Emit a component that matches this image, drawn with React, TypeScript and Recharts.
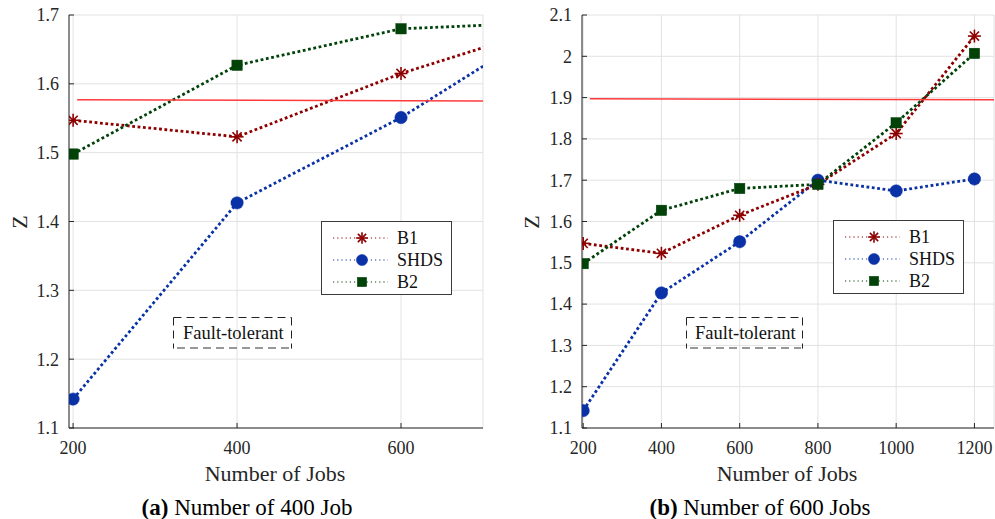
import React from 'react';
import { LineChart, Line, XAxis, YAxis, CartesianGrid } from 'recharts';

// ---- data ----
const jobs = [200, 400, 600, 800, 1000, 1200];
const b1Values = [1.547, 1.523, 1.615, 1.69, 1.813, 2.049];
const shdsValues = [1.142, 1.427, 1.551, 1.7, 1.674, 1.703];
const b2Values = [1.498, 1.627, 1.68, 1.69, 1.839, 2.007];

const thresholdAJobs = [205, 700];
const thresholdAZ = [1.577, 1.575];
const thresholdBJobs = [217, 1250];
const thresholdBZ = [1.897, 1.895];

const xTicksA = [200, 400, 600];
const xTicksB = [200, 400, 600, 800, 1000, 1200];
const yTicksA = [1.1, 1.2, 1.3, 1.4, 1.5, 1.6, 1.7];
const yTicksB = [1.1, 1.2, 1.3, 1.4, 1.5, 1.6, 1.7, 1.8, 1.9, 2, 2.1];

const seriesNames = ['B1', 'SHDS', 'B2'];
const captionA = 'Number of 400 Job';
const captionB = 'Number of 600 Jobs';
const xLabel = 'Number of Jobs';
const yLabel = 'Z';
const boxLabel = 'Fault-tolerant';

const rows = jobs.map((j, i) => ({ jobs: j, b1: b1Values[i], shds: shdsValues[i], b2: b2Values[i] }));
const thrA = thresholdAJobs.map((j, i) => ({ jobs: j, z: thresholdAZ[i] }));
const thrB = thresholdBJobs.map((j, i) => ({ jobs: j, z: thresholdBZ[i] }));

const FONT = "'Liberation Serif', Tinos, 'DejaVu Serif', 'Noto Serif', serif";
const C_B1 = '#8e0000';
const C_SHDS = '#0a32a6';
const C_B2 = '#004208';
const C_TEXT = '#262626';

type Shape = 'star' | 'circle' | 'square';

const Marker = ({ cx, cy, color, shape, scale = 1 }: { cx: number; cy: number; color: string; shape: Shape; scale?: number }) => {
  if (cx == null || cy == null) return null;
  if (shape === 'star') {
    const r = 6.5 * scale;
    const d = r * 0.707;
    return (
      <g stroke={color} strokeWidth={1.6}>
        <line x1={cx - r} y1={cy} x2={cx + r} y2={cy} />
        <line x1={cx} y1={cy - r} x2={cx} y2={cy + r} />
        <line x1={cx - d} y1={cy - d} x2={cx + d} y2={cy + d} />
        <line x1={cx - d} y1={cy + d} x2={cx + d} y2={cy - d} />
      </g>
    );
  }
  if (shape === 'circle') {
    return <circle cx={cx} cy={cy} r={6.2 * scale} fill={color} stroke={color} strokeWidth={0.5} />;
  }
  const s = 5.2 * scale;
  return <rect x={cx - s} y={cy - s} width={2 * s} height={2 * s} fill={color} stroke={color} strokeWidth={0.5} />;
};

const series: { key: string; name: string; color: string; shape: Shape }[] = [
  { key: 'shds', name: seriesNames[1], color: C_SHDS, shape: 'circle' },
  { key: 'b1', name: seriesNames[0], color: C_B1, shape: 'star' },
  { key: 'b2', name: seriesNames[2], color: C_B2, shape: 'square' },
];
const legendOrder = ['b1', 'shds', 'b2'];

const makeDot = (color: string, shape: Shape) => (p: any) => (
  <g key={`d-${p.index}`}>
    <Marker cx={p.cx} cy={p.cy} color={color} shape={shape} />
  </g>
);

const tickStyle = { fontFamily: FONT, fontSize: 18, fill: C_TEXT };

interface PanelProps {
  width: number;
  yAxisWidth: number;
  marginRight: number;
  xDomain: [number, number];
  yDomain: [number, number];
  xTicks: number[];
  yTicks: number[];
  thr: { jobs: number; z: number }[];
}

const Panel = ({ width, yAxisWidth, marginRight, xDomain, yDomain, xTicks, yTicks, thr }: PanelProps) => (
  <LineChart width={width} height={470} data={rows} margin={{ top: 15, right: marginRight, bottom: 0, left: 0 }} style={{ fontFamily: FONT }}>
    <CartesianGrid stroke="#e2e2e2" strokeWidth={1} />
    <XAxis
      dataKey="jobs"
      type="number"
      domain={xDomain}
      ticks={xTicks}
      allowDataOverflow
      height={42}
      tickSize={-5}
      tickMargin={18}
      tick={tickStyle}
      stroke={C_TEXT}
      tickLine={{ stroke: C_TEXT }}
      axisLine={{ stroke: C_TEXT }}
    />
    <XAxis
      xAxisId="t"
      orientation="top"
      dataKey="jobs"
      type="number"
      domain={xDomain}
      ticks={xTicks}
      allowDataOverflow
      height={0}
      tickSize={-5}
      tick={false}
      stroke={C_TEXT}
    />
    <YAxis
      type="number"
      domain={yDomain}
      ticks={yTicks}
      allowDataOverflow
      width={yAxisWidth}
      tickSize={-5}
      tickMargin={15}
      tick={tickStyle}
      stroke={C_TEXT}
      interval={0}
    />
    <YAxis
      yAxisId="r"
      orientation="right"
      type="number"
      domain={yDomain}
      ticks={yTicks}
      allowDataOverflow
      width={0}
      tickSize={-5}
      tick={false}
      stroke={C_TEXT}
      interval={0}
    />
    {series.map((s) => (
      <Line
        key={s.key}
        dataKey={s.key}
        stroke={s.color}
        strokeWidth={2.8}
        strokeDasharray="2.8 2.6"
        dot={makeDot(s.color, s.shape)}
        activeDot={false}
        isAnimationActive={false}
      />
    ))}
    <Line data={thr} dataKey="z" stroke="#ff3a3a" strokeWidth={1.5} dot={false} activeDot={false} isAnimationActive={false} />
  </LineChart>
);

const Legend = ({ left, top }: { left: number; top: number }) => (
  <div
    style={{
      position: 'absolute',
      left,
      top,
      width: 131,
      height: 74,
      border: '1px solid #3a3a3a',
      background: '#fff',
      paddingTop: 5,
      boxSizing: 'border-box',
    }}
  >
    {legendOrder.map((k) => {
      const s = series.find((x) => x.key === k)!;
      return (
        <div key={k} style={{ position: 'relative', height: 22 }}>
          <svg width={70} height={22} style={{ position: 'absolute', left: 0, top: 0 }}>
            <line x1={11} y1={11} x2={66} y2={11} stroke={s.color} strokeWidth={1} strokeDasharray="1.2 3" />
            <Marker cx={40} cy={11} color={s.color} shape={s.shape} scale={0.9} />
          </svg>
          <div
            style={{
              position: 'absolute',
              left: 75,
              top: 0,
              height: 22,
              lineHeight: '22px',
              fontFamily: FONT,
              fontSize: 18,
              color: '#111',
            }}
          >
            {s.name}
          </div>
        </div>
      );
    })}
  </div>
);

const DashedBox = ({ left, top, width, height, textLeft }: { left: number; top: number; width: number; height: number; textLeft: number }) => (
  <div style={{ position: 'absolute', left, top, width, height }}>
    <svg width={width} height={height} style={{ position: 'absolute', left: 0, top: 0 }}>
      <line x1={0.5} y1={0.5} x2={width - 0.5} y2={0.5} stroke="#222" strokeWidth={1} strokeDasharray="8 5" />
      <line x1={0.5} y1={0.5} x2={0.5} y2={height - 0.5} stroke="#222" strokeWidth={1} strokeDasharray="8 5" />
      <line x1={width - 0.5} y1={0.5} x2={width - 0.5} y2={height - 0.5} stroke="#222" strokeWidth={1} strokeDasharray="8 5" />
      <line x1={4} y1={height - 1} x2={width - 2} y2={height - 1} stroke="#777" strokeWidth={1.6} strokeDasharray="8 5" />
    </svg>
    <div
      style={{
        position: 'absolute',
        left: textLeft,
        top: 0,
        height,
        lineHeight: `${height}px`,
        fontFamily: FONT,
        fontSize: 18.5,
        color: '#111',
        whiteSpace: 'nowrap',
      }}
    >
      {boxLabel}
    </div>
  </div>
);

const TextAt = ({ x, y, size, children, rotate, color = C_TEXT }: { x: number; y: number; size: number; children: React.ReactNode; rotate?: boolean; color?: string }) => (
  <div
    style={{
      position: 'absolute',
      left: x,
      top: y,
      transform: `translate(-50%, -50%)${rotate ? ' rotate(-90deg)' : ''}`,
      fontFamily: FONT,
      fontSize: size,
      color,
      whiteSpace: 'nowrap',
      lineHeight: 1,
    }}
  >
    {children}
  </div>
);

export default function App() {
  return (
    <div style={{ position: 'absolute', left: 0, top: 0, width: 995, height: 519, background: '#fff', overflow: 'hidden', fontFamily: FONT }}>
      <div style={{ position: 'absolute', left: 0, top: 0 }}>
        <Panel
          width={500}
          yAxisWidth={69}
          marginRight={17}
          xDomain={[195, 700]}
          yDomain={[1.1, 1.7]}
          xTicks={xTicksA}
          yTicks={yTicksA}
          thr={thrA}
        />
      </div>
      <div style={{ position: 'absolute', left: 500, top: 0 }}>
        <Panel
          width={495}
          yAxisWidth={82}
          marginRight={1}
          xDomain={[197, 1250]}
          yDomain={[1.1, 2.1]}
          xTicks={xTicksB}
          yTicks={yTicksB}
          thr={thrB}
        />
      </div>

      <Legend left={321} top={221} />
      <Legend left={833} top={220} />

      <DashedBox left={173} top={317} width={119} height={32} textLeft={10} />
      <DashedBox left={686} top={317} width={117} height={32} textLeft={9} />

      <TextAt x={20} y={222} size={22} rotate>{yLabel}</TextAt>
      <TextAt x={532} y={222} size={22} rotate>{yLabel}</TextAt>
      <TextAt x={275} y={474} size={22}>{xLabel}</TextAt>
      <TextAt x={787} y={474} size={22}>{xLabel}</TextAt>

      <TextAt x={247} y={507} size={23} color="#000">
        <b>(a)</b> {captionA}
      </TextAt>
      <TextAt x={760} y={507} size={23} color="#000">
        <b>(b)</b> {captionB}
      </TextAt>
    </div>
  );
}
